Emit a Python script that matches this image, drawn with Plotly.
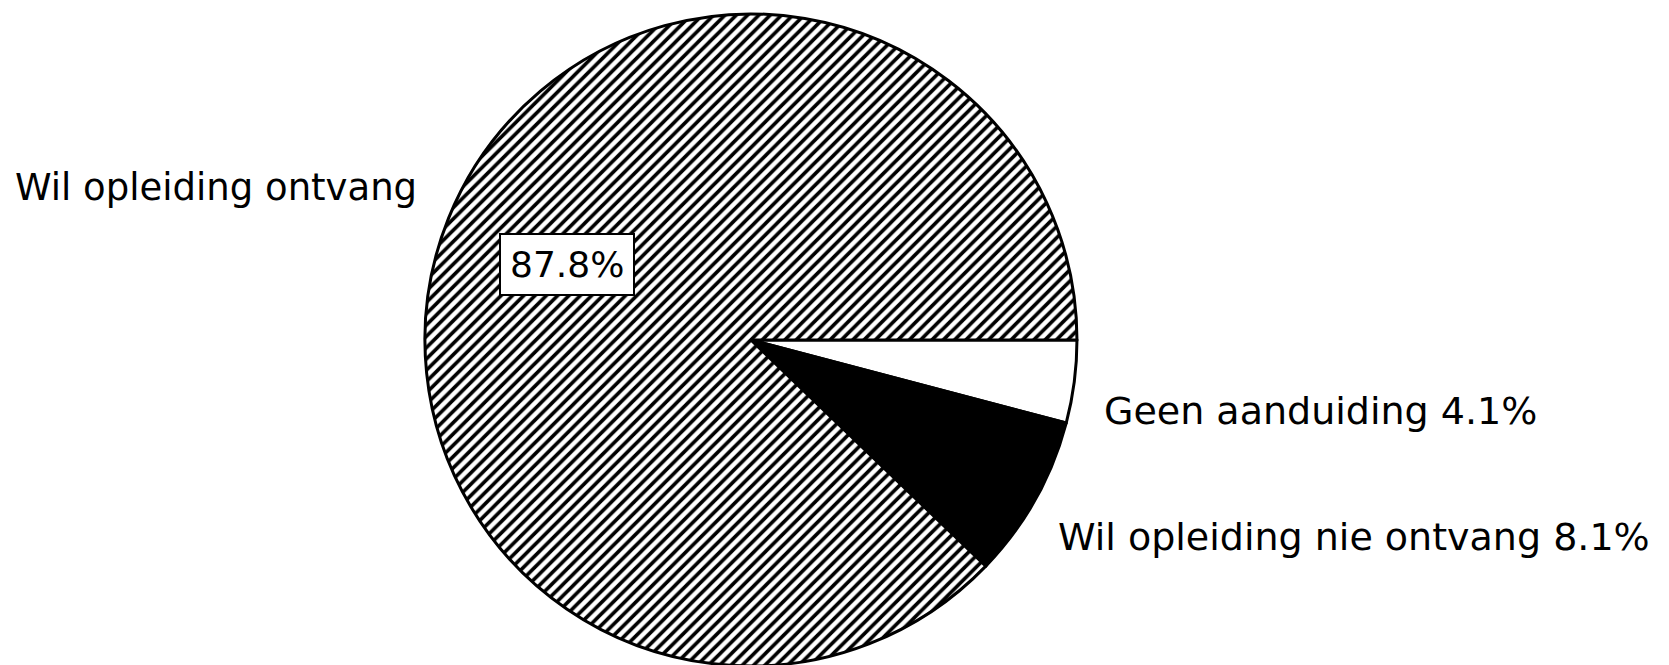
import plotly.graph_objects as go

categories = ["Geen aanduiding", "Wil opleiding nie ontvang", "Wil opleiding ontvang"]
values = [4.1, 8.1, 87.8]
label_texts = ["Geen aanduiding 4.1%", "Wil opleiding nie ontvang 8.1%", "Wil opleiding ontvang"]
inner_text = "87.8%"

W, H = 1669, 665


def px(x):
    return x / W


def py(y):
    return 1 - y / H


fig = go.Figure(go.Pie(
    labels=categories,
    values=values,
    sort=False,
    direction="clockwise",
    rotation=90,
    textinfo="none",
    hoverinfo="label+percent",
    showlegend=False,
    domain=dict(x=[0.2498, 0.6405], y=[0.0105, 0.991]),
    marker=dict(
        colors=["white", "black", "white"],
        line=dict(color="black", width=3),
        pattern=dict(
            shape=["", "", "/"],
            fgcolor="black",
            bgcolor="white",
            size=8,
            solidity=0.45,
        ),
    ),
))

font = dict(family="DejaVu Sans", size=38, color="black")
fig.add_annotation(x=px(5), y=py(179), xref="paper", yref="paper",
                   text=label_texts[2], showarrow=False, xanchor="left", yanchor="middle",
                   font=dict(family="DejaVu Sans", size=37, color="black"))
fig.add_annotation(x=px(1094), y=py(403), xref="paper", yref="paper",
                   text=label_texts[0], showarrow=False, xanchor="left", yanchor="middle", font=font)
fig.add_annotation(x=px(1048), y=py(529), xref="paper", yref="paper",
                   text=label_texts[1], showarrow=False, xanchor="left", yanchor="middle", font=font)
fig.add_annotation(x=px(559), y=py(256), xref="paper", yref="paper",
                   text=inner_text, showarrow=False, xanchor="center", yanchor="middle",
                   font=dict(family="DejaVu Sans", size=36, color="black"),
                   bgcolor="white", bordercolor="black", borderwidth=2, borderpad=9)

fig.update_layout(
    width=W, height=H,
    margin=dict(l=0, r=0, t=0, b=0),
    paper_bgcolor="white", plot_bgcolor="white",
)

fig.write_html("out.html")
